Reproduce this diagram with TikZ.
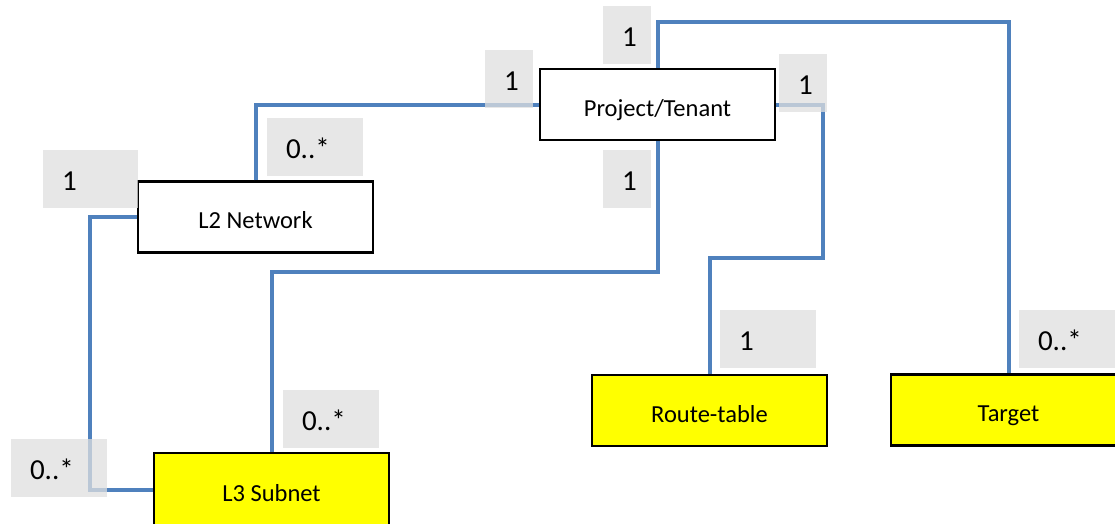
\documentclass[tikz,border=0pt]{standalone}
\usepackage{fontspec}
\setmainfont{Carlito}
\definecolor{conblue}{HTML}{4F81BD}
\definecolor{labgray}{HTML}{DFDFDF}
\definecolor{boxyellow}{HTML}{FFFF00}
\newcommand{\boxfont}{\fontsize{24.5}{28}\selectfont}
\newcommand{\labfont}{\fontsize{29}{33}\selectfont}
\begin{document}
\begin{tikzpicture}[x=1pt,y=-1pt,
  entity/.style={draw=black, line width=2.5pt, fill=white, minimum width=235pt, minimum height=71pt, inner sep=0pt, font=\boxfont, text height=25.7pt, text depth=2.5pt},
  yellowentity/.style={entity, fill=boxyellow},
  conn/.style={draw=conblue, line width=4pt, line join=miter},
  lab/.style={fill=labgray, fill opacity=0.75, text opacity=1, inner sep=0pt, minimum height=58pt, text width=#1, align=left, font=\labfont, text height=26pt, text depth=2.3pt, execute at begin node=\hspace*{19pt}},
  lab/.default=96pt]
\useasboundingbox (0,0) rectangle (1115,523);

% entities
\node[entity] (project) at (657.5,104.5) {Project/Tenant};
\node[entity] (l2) at (255.5,217) {L2 Network};
\node[yellowentity, minimum height=73pt] (l3) at (271.5,489.5) {L3 Subnet};
\node[yellowentity] (route) at (709.5,410.5) {Route-table};
\node[yellowentity, minimum width=235pt] (target) at (1008.5,410) {Target};

% helper coordinates
\coordinate (tr) at (1008.5,22);
\coordinate (y3) at (0,272);
\coordinate (c4) at (823,258);
\coordinate (c5) at (90,489.5);

% connectors
\draw[conn] (l2.north) |- (project.west);
\draw[conn] (project.north) |- (tr) -- (target.north);
\draw[conn] (project.south) -- (project.south |- y3) -| (l3.north);
\draw[conn] (project.east) -| (c4) -| (route.north);
\draw[conn] (l2.west) -| (c5) -- (l3.west);

% multiplicity labels
\node[lab=48pt] (m1) at (627,35) {1};
\node[lab=48pt] (m2) at (509,79) {1};
\node[lab=48pt] (m3) at (803,83) {1};
\node[lab=48pt] (m4) at (627,179) {1};
\node[lab] (m5) at (315,147) {0..*};
\node[lab=95pt] (m6) at (90.5,179) {1};
\node[lab] (m7) at (59,467.5) {0..*};
\node[lab] (m8) at (331,419) {0..*};
\node[lab] (m9) at (768,339) {1};
\node[lab] (m10) at (1067,339) {0..*};
\end{tikzpicture}
\end{document}
